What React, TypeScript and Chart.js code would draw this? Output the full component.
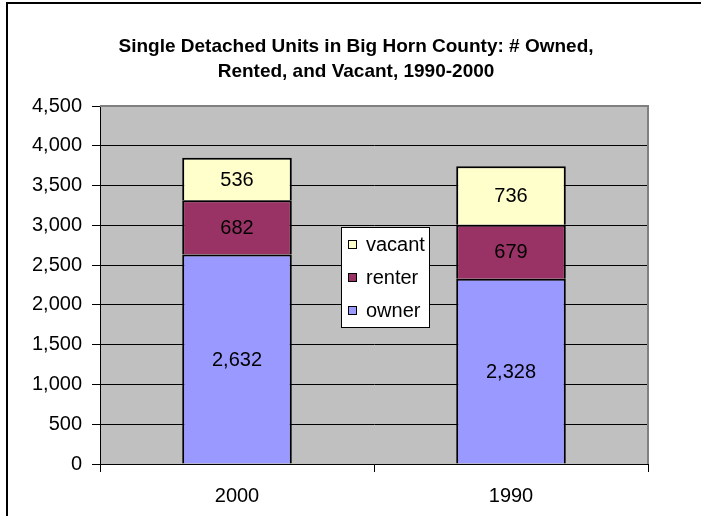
import React, { useEffect, useRef } from "react";
import { Chart, registerables } from "chart.js";

Chart.register(...registerables);

const categories = ["2000", "1990"];
const ownerValues = [2632, 2328];
const renterValues = [682, 679];
const vacantValues = [536, 736];
const yTicks = [0, 500, 1000, 1500, 2000, 2500, 3000, 3500, 4000, 4500];
const titleLines = ["Single Detached Units in Big Horn County: # Owned,", "Rented, and Vacant, 1990-2000"];

const FONT = "'Liberation Sans', Arial, sans-serif";

const decorPlugin = {
  id: "decor",
  beforeDraw(chart: any) {
    const { ctx, chartArea } = chart;
    ctx.save();
    ctx.fillStyle = "#c0c0c0";
    ctx.fillRect(chartArea.left, chartArea.top, chartArea.right - chartArea.left, chartArea.bottom - chartArea.top);
    ctx.restore();
  },
  afterDatasetsDraw(chart: any) {
    const { ctx, chartArea } = chart;
    ctx.save();
    ctx.strokeStyle = "#808080";
    ctx.lineWidth = 2;
    ctx.beginPath();
    ctx.moveTo(chartArea.left, chartArea.top);
    ctx.lineTo(chartArea.right, chartArea.top);
    ctx.lineTo(chartArea.right, chartArea.bottom);
    ctx.stroke();

    ctx.fillStyle = "#000";
    ctx.font = `20px ${FONT}`;
    ctx.textAlign = "center";
    ctx.textBaseline = "middle";
    chart.data.datasets.forEach((ds: any, i: number) => {
      const meta = chart.getDatasetMeta(i);
      meta.data.forEach((el: any, j: number) => {
        const v = ds.data[j];
        ctx.fillText(v.toLocaleString("en-US"), el.x, (el.y + el.base) / 2 + 1);
      });
    });

    const lx = 341, ly = 227, lw = 88, lh = 100;
    ctx.fillStyle = "#fff";
    ctx.fillRect(lx, ly, lw, lh);
    ctx.strokeStyle = "#000";
    ctx.lineWidth = 1;
    ctx.strokeRect(lx + 0.5, ly + 0.5, lw, lh);
    const items = [...chart.data.datasets].reverse();
    items.forEach((ds: any, k: number) => {
      const cy = ly + 17 + k * 33;
      ctx.fillStyle = ds.backgroundColor;
      ctx.fillRect(lx + 7, cy - 4, 8, 8);
      ctx.strokeRect(lx + 7.5, cy - 3.5, 8, 8);
      ctx.fillStyle = "#000";
      ctx.textAlign = "left";
      ctx.textBaseline = "middle";
      ctx.font = `20px ${FONT}`;
      ctx.fillText(ds.label, lx + 25, cy + 1);
    });

    ctx.font = `bold 19px ${FONT}`;
    ctx.textAlign = "center";
    ctx.textBaseline = "middle";
    ctx.fillStyle = "#000";
    titleLines.forEach((t, k) => ctx.fillText(t, 356, 47 + k * 25));

    ctx.strokeStyle = "#000";
    ctx.lineWidth = 2;
    ctx.strokeRect(7, 3, 1000, 1000);
    ctx.restore();
  },
};

export default function App() {
  const ref = useRef<HTMLCanvasElement | null>(null);
  useEffect(() => {
    if (!ref.current) return;
    const chart = new Chart(ref.current, {
      type: "bar",
      data: {
        labels: categories,
        datasets: [
          { label: "owner", data: ownerValues, backgroundColor: "#9999ff", borderColor: "#000", borderWidth: 2 },
          { label: "renter", data: renterValues, backgroundColor: "#993366", borderColor: "#000", borderWidth: 2 },
          { label: "vacant", data: vacantValues, backgroundColor: "#ffffcc", borderColor: "#000", borderWidth: 2 },
        ],
      },
      options: {
        responsive: false,
        animation: false,
        devicePixelRatio: 1,
        layout: { padding: { left: 10, right: 53, top: 106, bottom: 0 } },
        plugins: { legend: { display: false }, title: { display: false }, tooltip: { enabled: false } },
        datasets: { bar: { categoryPercentage: 1, barPercentage: 0.4 } } as any,
        scales: {
          x: {
            stacked: true,
            offset: true,
            grid: { offset: true, drawOnChartArea: false, drawTicks: true, tickLength: 8, color: "#000" },
            border: { color: "#000", width: 1 },
            ticks: { color: "#000", font: { family: FONT, size: 20 }, padding: 12 },
            afterFit: (s: any) => { s.height = 52; },
          },
          y: {
            stacked: true,
            min: 0,
            max: 4500,
            afterBuildTicks: (s: any) => { s.ticks = yTicks.map((v) => ({ value: v })); },
            grid: { color: "#000", tickLength: 8, lineWidth: 1 },
            border: { color: "#000", width: 1 },
            ticks: {
              color: "#000",
              font: { family: FONT, size: 20 },
              padding: 10,
              callback: (v: any) => Number(v).toLocaleString("en-US"),
            },
            afterFit: (s: any) => { s.width = 90; },
          },
        },
      },
      plugins: [decorPlugin],
    });
    return () => chart.destroy();
  }, []);
  return (
    <div style={{ position: "fixed", left: 0, top: 0, width: 701, height: 516, background: "#fff" }}>
      <canvas ref={ref} width={701} height={516} style={{ display: "block", width: 701, height: 516 }} />
    </div>
  );
}
